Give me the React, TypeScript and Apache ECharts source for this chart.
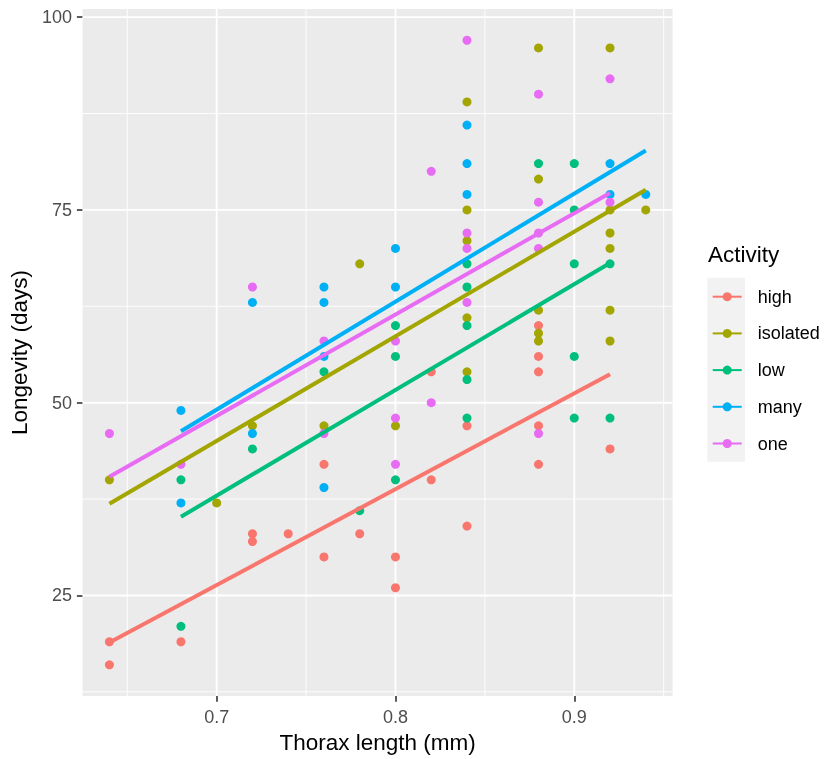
import React, { useEffect, useRef } from "react";
import * as echarts from "echarts";

// ---- data ----
const groups = ["high", "isolated", "low", "many", "one"];
const groupColors = ["#F8766D", "#A3A500", "#00BF7D", "#00B0F6", "#E76BF3"];

const highThorax = [0.64, 0.64, 0.68, 0.72, 0.72, 0.74, 0.76, 0.76, 0.78, 0.8, 0.8, 0.82, 0.82, 0.84, 0.84, 0.88, 0.88, 0.88, 0.88, 0.88, 0.92];
const highLongevity = [19, 16, 19, 33, 32, 33, 42, 30, 33, 30, 26, 54, 40, 47, 34, 60, 56, 54, 47, 42, 44];

const isolatedThorax = [0.64, 0.7, 0.72, 0.76, 0.78, 0.8, 0.84, 0.84, 0.84, 0.84, 0.84, 0.88, 0.88, 0.88, 0.88, 0.88, 0.92, 0.92, 0.92, 0.92, 0.92, 0.92, 0.94];
const isolatedLongevity = [40, 37, 47, 47, 68, 47, 89, 75, 71, 61, 54, 96, 79, 62, 59, 58, 96, 75, 72, 70, 62, 58, 75];

const lowThorax = [0.68, 0.68, 0.72, 0.76, 0.78, 0.8, 0.8, 0.8, 0.84, 0.84, 0.84, 0.84, 0.84, 0.88, 0.9, 0.9, 0.9, 0.9, 0.9, 0.92, 0.92];
const lowLongevity = [40, 21, 44, 54, 36, 60, 56, 40, 68, 65, 60, 53, 48, 81, 81, 75, 68, 56, 48, 68, 48];

const manyThorax = [0.68, 0.68, 0.72, 0.72, 0.76, 0.76, 0.76, 0.76, 0.8, 0.8, 0.84, 0.84, 0.84, 0.92, 0.92, 0.94];
const manyLongevity = [49, 37, 63, 46, 65, 63, 56, 39, 70, 65, 86, 81, 77, 81, 77, 77];

const oneThorax = [0.64, 0.68, 0.72, 0.76, 0.76, 0.8, 0.8, 0.8, 0.82, 0.82, 0.84, 0.84, 0.84, 0.84, 0.88, 0.88, 0.88, 0.88, 0.88, 0.92, 0.92];
const oneLongevity = [46, 42, 65, 58, 46, 58, 48, 42, 80, 50, 97, 72, 70, 63, 90, 76, 72, 70, 46, 92, 76];

// fitted (lm) line end points per group, same order as groups
const fitStartThorax = [0.64, 0.64, 0.68, 0.68, 0.64];
const fitStartLongevity = [18.9, 36.9, 35.2, 46.3, 40.4];
const fitEndThorax = [0.92, 0.94, 0.92, 0.94, 0.92];
const fitEndLongevity = [53.7, 77.6, 68.1, 82.7, 77.2];

const xLimits = [0.625, 0.955];
const yLimits = [11.95, 101.05];
const xTicks = [0.7, 0.8, 0.9];
const xMinorGrid = [0.65, 0.75, 0.85, 0.95];
const yTicks = [25, 50, 75, 100];
const yMinorGrid = [12.5, 37.5, 62.5, 87.5];

const groupThorax = [highThorax, isolatedThorax, lowThorax, manyThorax, oneThorax];
const groupLongevity = [highLongevity, isolatedLongevity, lowLongevity, manyLongevity, oneLongevity];

const FONT = "'Liberation Sans', Arial, Helvetica, sans-serif";

export default function App() {
  const ref = useRef<HTMLDivElement>(null);

  useEffect(() => {
    if (!ref.current) return;
    const chart = echarts.init(ref.current, undefined, { renderer: "svg" });

    const gridLine = (vertical: boolean, v: number, w: number) => ({
      type: "line",
      data: vertical
        ? [[v, yLimits[0]], [v, yLimits[1]]]
        : [[xLimits[0], v], [xLimits[1], v]],
      showSymbol: false,
      symbol: "none",
      silent: true,
      z: 1,
      lineStyle: { color: "#FFFFFF", width: w },
      emphasis: { disabled: true },
    });

    const gridSeries = [
      ...xMinorGrid.map((v) => gridLine(true, v, 0.9)),
      ...yMinorGrid.map((v) => gridLine(false, v, 0.9)),
      ...xTicks.map((v) => gridLine(true, v, 1.9)),
      ...yTicks.map((v) => gridLine(false, v, 1.9)),
    ];

    const lineSeries = groups.map((g, i) => ({
      name: g,
      type: "line",
      data: [
        [fitStartThorax[i], fitStartLongevity[i]],
        [fitEndThorax[i], fitEndLongevity[i]],
      ],
      symbol: "circle",
      showSymbol: false,
      symbolSize: 9,
      color: groupColors[i],
      itemStyle: { color: groupColors[i] },
      lineStyle: { color: groupColors[i], width: 4 },
      z: 4,
      silent: true,
    }));

    const scatterSeries = groups.map((g, i) => ({
      name: g,
      type: "scatter",
      data: groupThorax[i].map((x, j) => [x, groupLongevity[i][j]]),
      symbol: "circle",
      symbolSize: 9,
      itemStyle: { color: groupColors[i], opacity: 1 },
      z: 3,
    }));

    chart.setOption({
      animation: false,
      textStyle: { fontFamily: FONT },
      grid: {
        left: 82.6,
        right: 154.4,
        top: 9,
        bottom: 62,
        show: true,
        backgroundColor: "#EBEBEB",
        borderWidth: 0,
        containLabel: false,
      },
      xAxis: {
        type: "value",
        min: xLimits[0],
        max: xLimits[1],
        name: "Thorax length (mm)",
        nameLocation: "middle",
        nameGap: 30,
        nameTextStyle: { color: "#000000", fontSize: 22.5, fontFamily: FONT },
        axisLine: { show: false },
        axisTick: {
          show: true,
          length: 5.7,
          customValues: xTicks,
          lineStyle: { color: "#333333", width: 1.6 },
        },
        axisLabel: {
          show: true,
          customValues: xTicks,
          color: "#4D4D4D",
          fontSize: 18,
          margin: 12,
          fontFamily: FONT,
          formatter: (v: number) => v.toFixed(1),
        },
        splitLine: { show: false },
      },
      yAxis: {
        type: "value",
        min: yLimits[0],
        max: yLimits[1],
        name: "Longevity (days)",
        nameLocation: "middle",
        nameGap: 44,
        nameRotate: 90,
        nameTextStyle: { color: "#000000", fontSize: 22.5, fontFamily: FONT },
        axisLine: { show: false },
        axisTick: {
          show: true,
          length: 5.7,
          customValues: yTicks,
          lineStyle: { color: "#333333", width: 1.6 },
        },
        axisLabel: {
          show: true,
          customValues: yTicks,
          color: "#4D4D4D",
          fontSize: 18,
          margin: 10.5,
          fontFamily: FONT,
          formatter: (v: number) => String(v),
        },
        splitLine: { show: false },
      },
      legend: {
        data: groups,
        orient: "vertical",
        left: 711.7,
        top: 287.7,
        padding: 0,
        itemWidth: 29,
        itemHeight: 11.25,
        itemGap: 18.7,
        selectedMode: false,
        textStyle: {
          color: "#000000",
          fontSize: 18,
          fontFamily: FONT,
          padding: [0, 0, 0, 11],
        },
      },
      graphic: [
        {
          type: "rect",
          left: 707.3,
          top: 277.7,
          shape: { width: 37.7, height: 184 },
          style: { fill: "#F2F2F2" },
          z: -1,
          silent: true,
        },
        {
          type: "text",
          left: 708,
          top: 243,
          style: {
            text: "Activity",
            fill: "#000000",
            fontSize: 22.5,
            fontFamily: FONT,
          },
          silent: true,
        },
      ],
      series: [...gridSeries, ...lineSeries, ...scatterSeries],
    });

    return () => chart.dispose();
  }, []);

  return (
    <div
      ref={ref}
      style={{ position: "fixed", left: 0, top: 0, width: 827, height: 759 }}
    />
  );
}
